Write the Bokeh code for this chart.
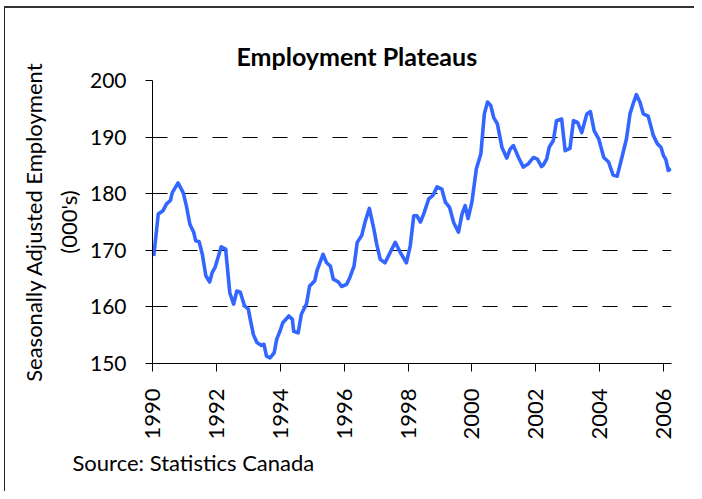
import math
from bokeh.plotting import figure
from bokeh.models import Range1d, FixedTicker, Title, InlineStyleSheet
from bokeh.embed import file_html
from bokeh.resources import INLINE

# ---- data ----
years = [1990.04, 1990.18, 1990.33, 1990.44, 1990.56, 1990.62, 1990.80, 1990.96,
         1991.06, 1991.17, 1991.29, 1991.35, 1991.46, 1991.56, 1991.67, 1991.79,
         1991.87, 1991.96, 1992.05, 1992.15, 1992.29, 1992.42, 1992.54, 1992.64,
         1992.75, 1992.88, 1993.00, 1993.05, 1993.16, 1993.27, 1993.41, 1993.49,
         1993.57, 1993.68, 1993.81, 1993.89, 1993.99,
         1994.08, 1994.27, 1994.38, 1994.42, 1994.56, 1994.66, 1994.82, 1994.92,
         1995.08, 1995.15, 1995.34, 1995.45, 1995.57, 1995.66, 1995.82, 1995.92,
         1996.08, 1996.18, 1996.31, 1996.41, 1996.55, 1996.65, 1996.79, 1996.94,
         1997.02, 1997.13, 1997.28, 1997.44, 1997.60, 1997.76, 1997.95, 1998.07,
         1998.18,
         1998.28, 1998.39, 1998.49, 1998.65, 1998.78, 1998.91, 1999.06, 1999.17,
         1999.30, 1999.43, 1999.58, 1999.69, 1999.79, 1999.88, 2000.00, 2000.14,
         2000.28, 2000.39, 2000.49, 2000.59, 2000.68, 2000.80, 2000.94, 2001.09,
         2001.20, 2001.30, 2001.46, 2001.61, 2001.77, 2001.93, 2002.05, 2002.18,
         2002.23, 2002.34, 2002.42, 2002.55, 2002.65, 2002.81, 2002.92, 2003.07,
         2003.18, 2003.31, 2003.44, 2003.60, 2003.71, 2003.83, 2003.97, 2004.13,
         2004.28, 2004.42, 2004.55, 2004.71, 2004.84, 2004.95, 2005.05, 2005.15,
         2005.26, 2005.37, 2005.52, 2005.68, 2005.81, 2005.92, 2006.00, 2006.07,
         2006.15, 2006.23]
employment = [169.0, 176.4, 177.0, 178.2, 178.8, 180.2, 181.9, 180.2,
              177.9, 174.6, 173.2, 171.7, 171.5, 169.3, 165.5, 164.4,
              166.1, 167.0, 168.7, 170.6, 170.2, 162.5, 160.5, 162.8,
              162.6, 160.2, 159.6, 158.1, 155.1, 153.7, 153.2, 153.4,
              151.3, 151.0, 151.9, 154.3, 155.7,
              157.2, 158.4, 157.8, 155.7, 155.4, 158.7, 160.5, 163.7,
              164.6, 166.4, 169.3, 167.8, 167.2, 164.9, 164.4, 163.6,
              164.0, 165.2, 167.2, 171.4, 172.6, 174.9, 177.4, 173.5,
              171.1, 168.4, 167.8, 169.6, 171.4, 169.6, 167.8, 170.8,
              176.1,
              176.1, 175.0, 176.4, 179.1, 179.7, 181.2, 180.8, 178.5,
              177.6, 174.9, 173.2, 176.4, 177.9, 175.6, 178.5, 184.4,
              187.0, 194.1, 196.2, 195.6, 193.5, 192.3, 188.2, 186.3,
              187.9, 188.5, 186.4, 184.7, 185.3, 186.4, 186.1, 184.8,
              185.0, 186.1, 188.2, 189.4, 192.9, 193.2, 187.6, 188.0,
              192.9, 192.6, 190.8, 194.1, 194.5, 191.1, 189.7, 186.4,
              185.6, 183.3, 183.1, 186.7, 189.7, 194.1, 195.9, 197.5,
              196.2, 194.1, 193.7, 190.3, 188.8, 188.2, 186.7, 186.1,
              184.1, 184.4]
x_ticks = [1990, 1992, 1994, 1996, 1998, 2000, 2002, 2004, 2006]
y_ticks = [150, 160, 170, 180, 190, 200]
grid_ticks = [160, 170, 180, 190]

title_text = "Employment Plateaus"
y_label_1 = "Seasonally Adjusted Employment"
y_label_2 = "(000's)"
source_text = "Source: Statistics Canada"

FONT = "Lato"

p = figure(width=694, height=491, output_backend="svg", toolbar_location=None,
           x_range=Range1d(1990, 2006.25), y_range=Range1d(150, 200),
           min_border_left=152, min_border_right=23, min_border_top=80,
           min_border_bottom=128)
p.outline_line_color = None
p.background_fill_color = "white"
p.border_fill_color = "white"
p.stylesheets = [InlineStyleSheet(css="""
:host::after {
  content: "";
  position: absolute;
  left: 4px; top: 6px; right: 0px; bottom: 0px;
  border-left: 1px solid #222222;
  border-top: 2px solid #333333;
  pointer-events: none;
}
""")]

p.line(years, employment, line_color="#3366FF", line_width=3.6, line_join="round")

# axes
p.xaxis.ticker = FixedTicker(ticks=x_ticks)
p.yaxis.ticker = FixedTicker(ticks=y_ticks)
for ax in (p.xaxis[0], p.yaxis[0]):
    ax.axis_line_color = "black"
    ax.axis_line_width = 1
    ax.major_tick_line_color = "black"
    ax.major_tick_in = 0
    ax.minor_tick_line_color = None
    ax.major_label_text_font = FONT
    ax.major_label_text_color = "black"
p.yaxis.major_label_text_font_size = "21px"
p.xaxis.major_label_text_font_size = "22px"
p.yaxis.major_tick_out = 7
p.yaxis.major_label_standoff = 19
p.xaxis.major_tick_out = 8
p.xaxis.major_label_standoff = 17
p.xaxis.major_label_orientation = math.pi / 2

# grid
p.xgrid.grid_line_color = None
p.ygrid.ticker = FixedTicker(ticks=grid_ticks)
p.ygrid.grid_line_color = "black"
p.ygrid.grid_line_width = 1
p.ygrid.grid_line_dash = "15 15"

# texts as side-panel titles
p.add_layout(Title(text=y_label_2, text_font=FONT, text_font_size="22px",
                   text_font_style="normal", text_color="black",
                   align="center", standoff=9), "left")
p.add_layout(Title(text=y_label_1, text_font=FONT, text_font_size="22px",
                   text_font_style="normal", text_color="black",
                   align="center", standoff=3), "left")
p.add_layout(Title(text=title_text, text_font=FONT, text_font_size="25px",
                   text_font_style="bold", text_color="black",
                   align="left", offset=84, standoff=19), "above")
p.add_layout(Title(text=source_text, text_font=FONT, text_font_size="22px",
                   text_font_style="normal", text_color="black",
                   align="left", offset=-80, standoff=9), "below")

open("out.html", "w").write(file_html(p, INLINE))
